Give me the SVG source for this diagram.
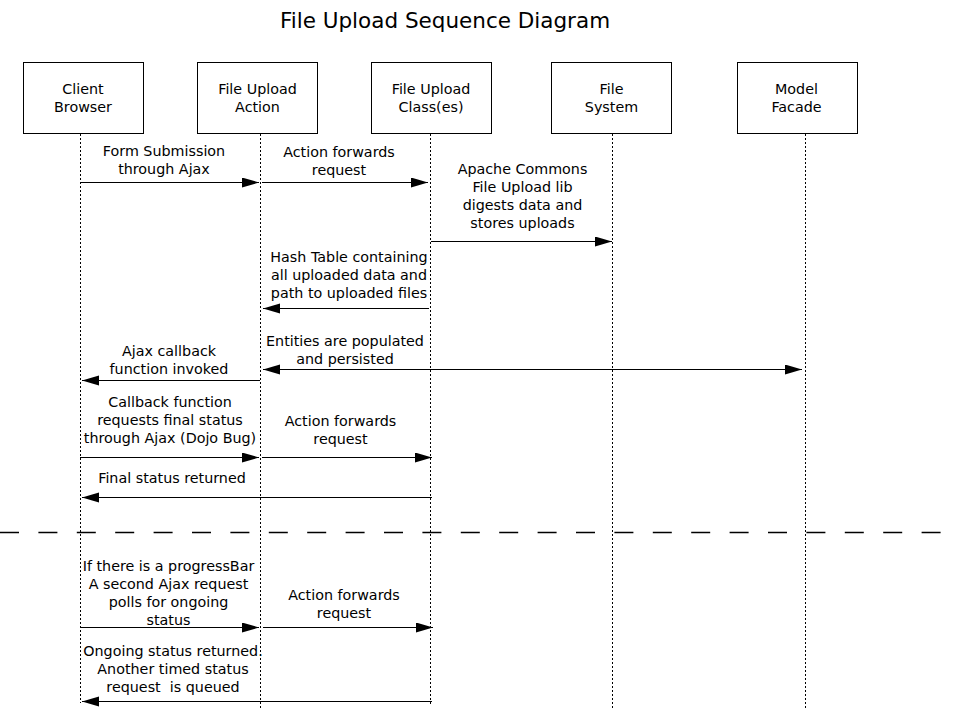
<svg xmlns="http://www.w3.org/2000/svg" width="957" height="714" viewBox="0 0 957 714">
<style>
text{font-family:"DejaVu Sans","Liberation Sans",sans-serif;font-size:14.3px;fill:#000;text-anchor:middle}
.title{font-size:21.5px}
.box{fill:#fff;stroke:#000;stroke-width:1}
.life{stroke:#000;stroke-width:1;stroke-dasharray:2 2;fill:none}
.msg{stroke:#000;stroke-width:1;fill:none;marker-end:url(#ah)}
.sep{stroke:#000;stroke-width:1.3;stroke-dasharray:19 19.4;fill:none}
</style>
<defs>
<marker id="ah" markerUnits="userSpaceOnUse" markerWidth="18" markerHeight="11" refX="17" refY="5" orient="auto">
<path d="M0,0 L17,5 L0,10 z" fill="#000"/>
</marker>
<marker id="ahs" markerUnits="userSpaceOnUse" markerWidth="18" markerHeight="11" refX="17" refY="5" orient="auto-start-reverse">
<path d="M0,0 L17,5 L0,10 z" fill="#000"/>
</marker>
</defs>
<rect width="957" height="714" fill="#fff"/>
<text class="title" x="445" y="28">File Upload Sequence Diagram</text>

<g id="client">
<rect class="box" x="23.5" y="62.5" width="120" height="71"/>
<text x="83" y="94">Client</text><text x="83" y="112">Browser</text>
<line class="life" x1="80.5" y1="134" x2="80.5" y2="703"/>
</g>
<g id="action">
<rect class="box" x="197.5" y="62.5" width="120" height="71"/>
<text x="257.5" y="94">File Upload</text><text x="257.5" y="112">Action</text>
<line class="life" x1="260.5" y1="134" x2="260.5" y2="710"/>
</g>
<g id="classes">
<rect class="box" x="371.5" y="62.5" width="120" height="71"/>
<text x="431" y="94">File Upload</text><text x="431" y="112">Class(es)</text>
<line class="life" x1="430.5" y1="134" x2="430.5" y2="705"/>
</g>
<g id="filesystem">
<rect class="box" x="551.5" y="62.5" width="120" height="71"/>
<text x="611.5" y="94">File</text><text x="611.5" y="112">System</text>
<line class="life" x1="612.5" y1="134" x2="612.5" y2="710"/>
</g>
<g id="model">
<rect class="box" x="737.5" y="62.5" width="120" height="71"/>
<text x="796.5" y="94">Model</text><text x="796.5" y="112">Facade</text>
<line class="life" x1="805.5" y1="134" x2="805.5" y2="710"/>
</g>

<g id="connectors">
<line class="msg" x1="80" y1="182.5" x2="259" y2="182.5"/>
<line class="msg" x1="262" y1="182.5" x2="428" y2="182.5"/>
<line class="msg" x1="431" y1="241.5" x2="612" y2="241.5"/>
<line class="msg" x1="429" y1="308.5" x2="263" y2="308.5"/>
<line class="msg" x1="263" y1="369.5" x2="802" y2="369.5" marker-start="url(#ahs)"/>
<line class="msg" x1="260" y1="380.5" x2="82" y2="380.5"/>
<line class="msg" x1="80" y1="457.5" x2="259" y2="457.5"/>
<line class="msg" x1="262" y1="457.5" x2="432" y2="457.5"/>
<line class="msg" x1="432" y1="497.5" x2="82" y2="497.5"/>
<line class="sep" x1="0" y1="532.5" x2="941" y2="532.5"/>
<line class="msg" x1="80" y1="627.5" x2="259" y2="627.5"/>
<line class="msg" x1="263" y1="627.5" x2="433" y2="627.5"/>
<line class="msg" x1="432" y1="701.5" x2="82" y2="701.5"/>
</g>

<g id="labels">
<text x="164" y="156">Form Submission</text><text x="164" y="174">through Ajax</text>
<text x="339" y="157">Action forwards</text><text x="339" y="175">request</text>
<text x="522.5" y="174">Apache Commons</text><text x="522.5" y="192">File Upload lib</text><text x="522.5" y="210">digests data and</text><text x="522.5" y="228">stores uploads</text>
<text x="349" y="262">Hash Table containing</text><text x="349" y="280">all uploaded data and</text><text x="349" y="298">path to uploaded files</text>
<text x="345" y="346">Entities are populated</text><text x="345" y="364">and persisted</text>
<text x="169" y="356">Ajax callback</text><text x="169" y="374">function invoked</text>
<text x="170" y="407">Callback function</text><text x="170" y="425">requests final status</text><text x="170" y="443">through Ajax (Dojo Bug)</text>
<text x="340.5" y="426">Action forwards</text><text x="340.5" y="444">request</text>
<text x="172" y="483">Final status returned</text>
<text x="168.5" y="571">If there is a progressBar</text><text x="168.5" y="589">A second Ajax request</text><text x="168.5" y="607">polls for ongoing</text><text x="168.5" y="625">status</text>
<text x="344" y="600">Action forwards</text><text x="344" y="618">request</text>
<text x="173" y="656">Ongoing status returned.</text><text x="173" y="674">Another timed status</text><text x="173" y="692" xml:space="preserve" style="white-space:pre">request  is queued</text>
</g>
</svg>
